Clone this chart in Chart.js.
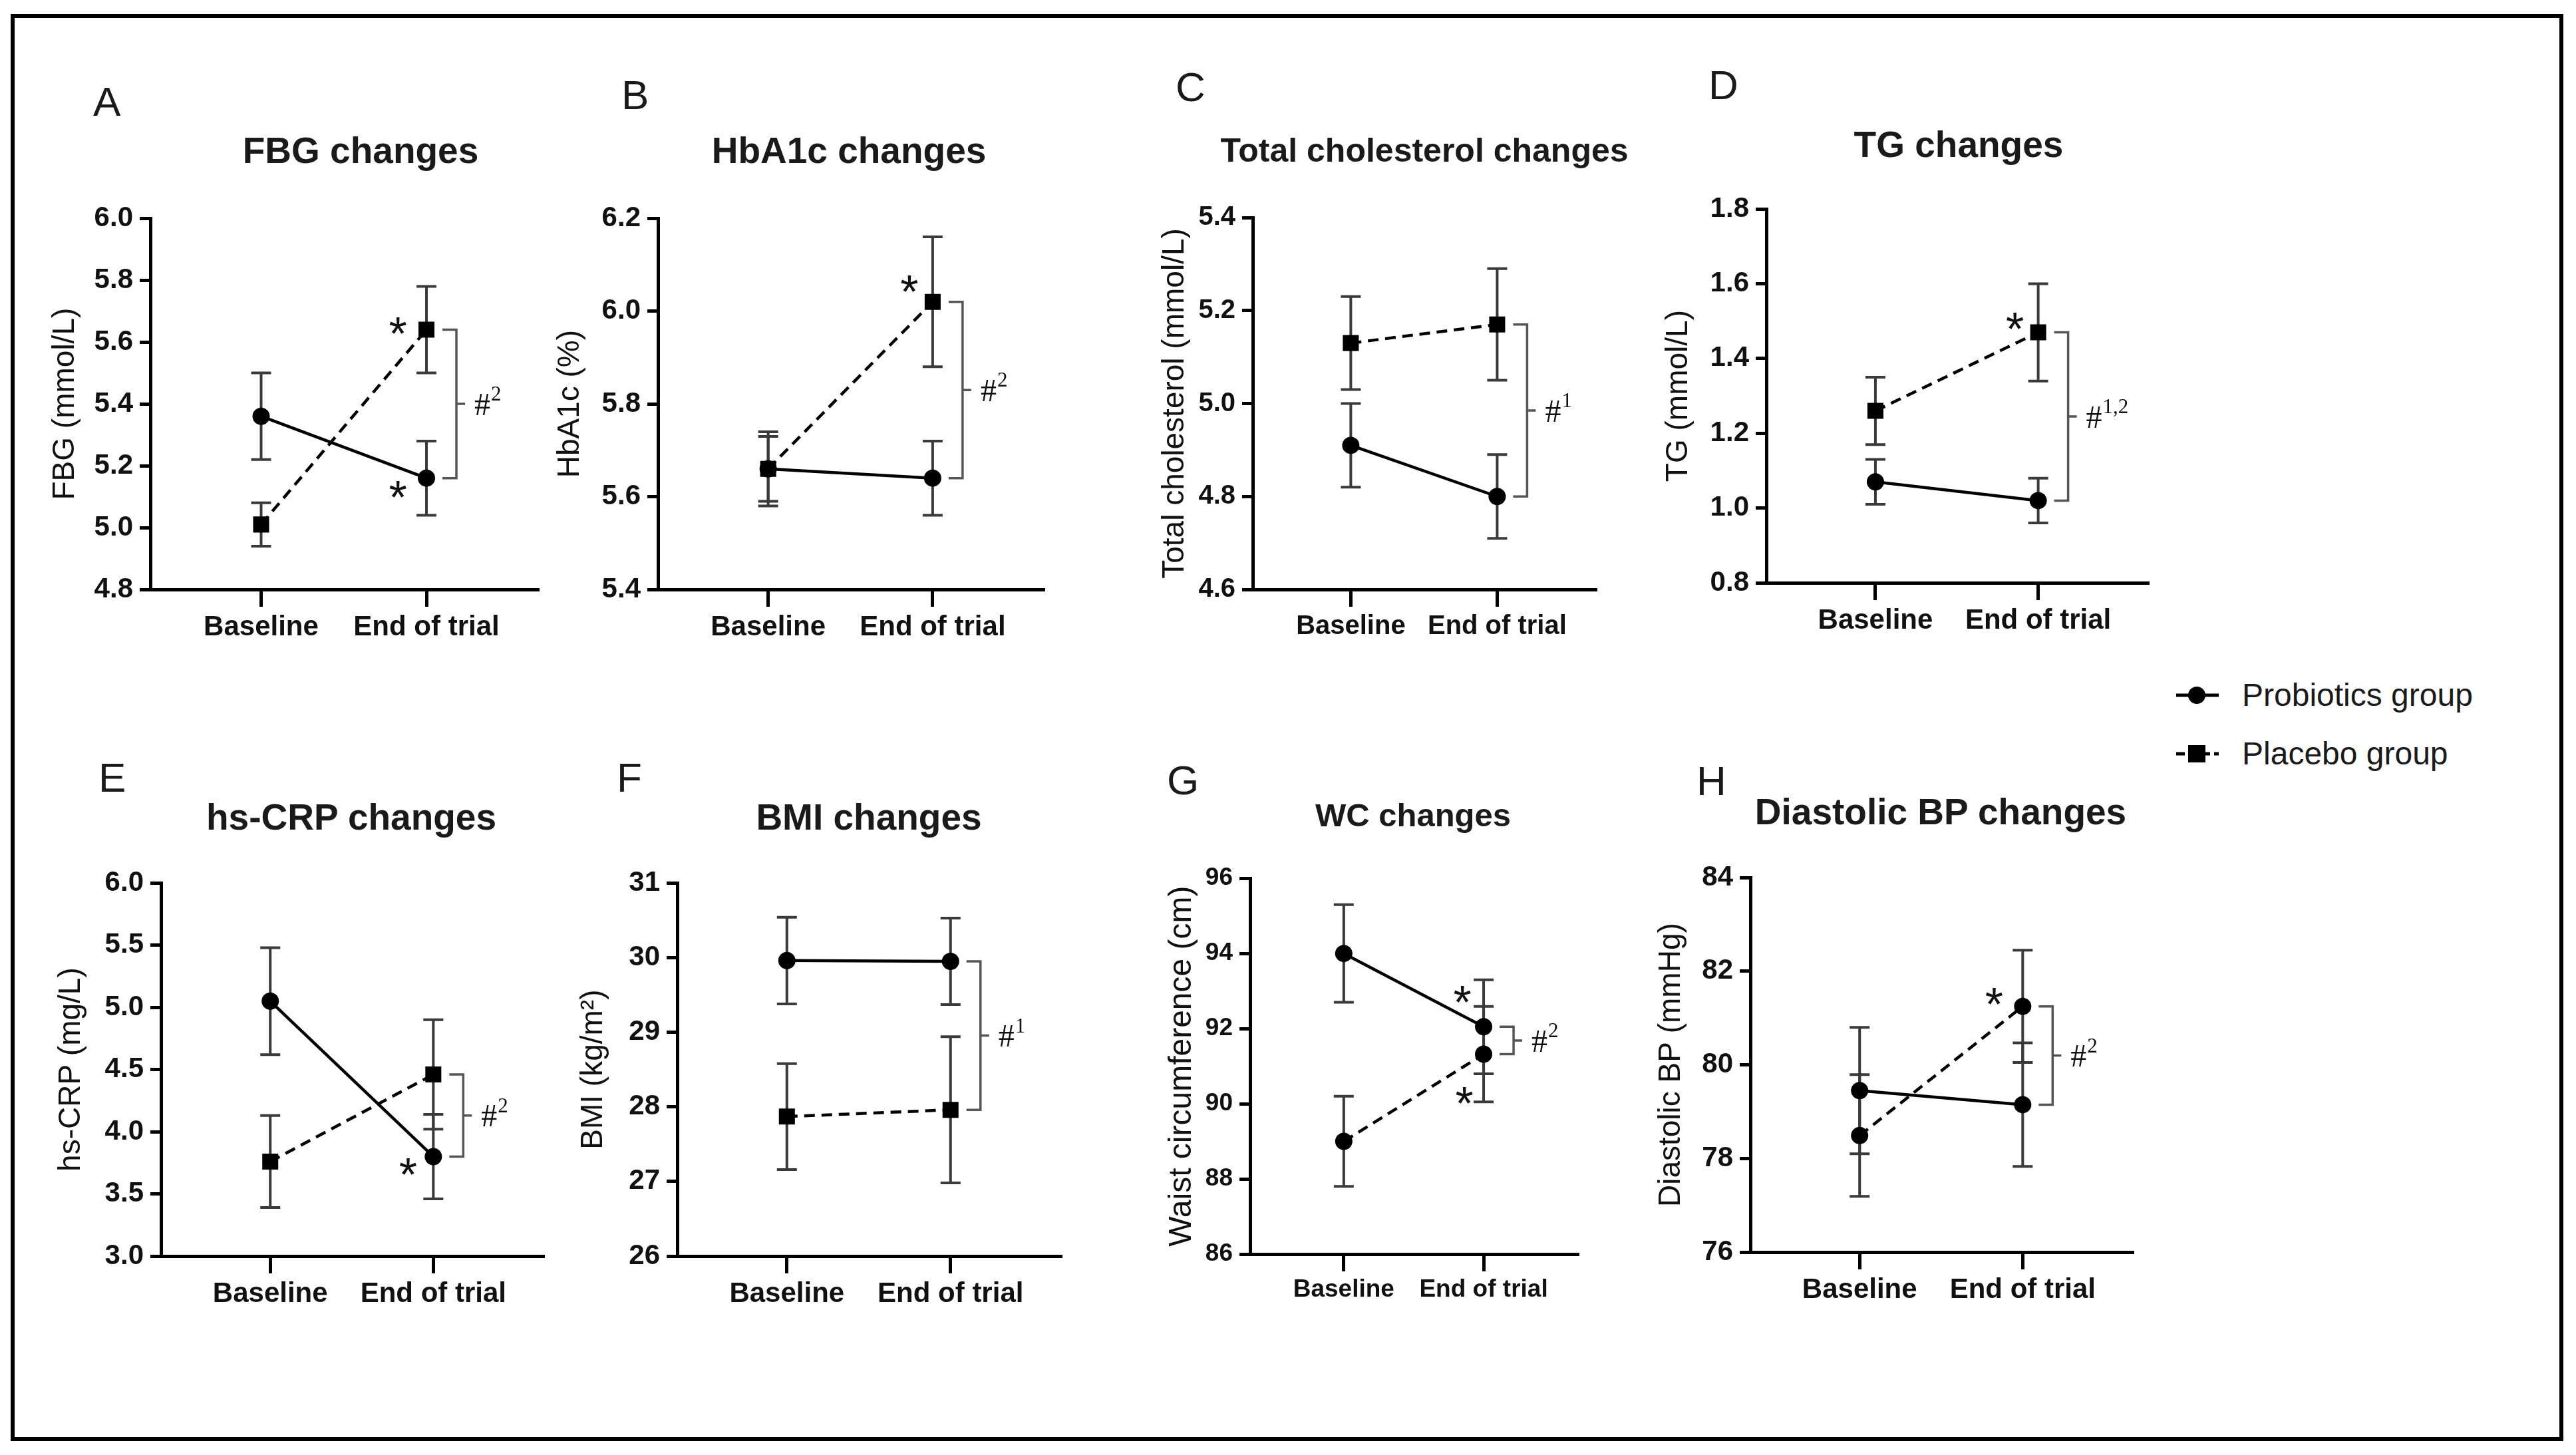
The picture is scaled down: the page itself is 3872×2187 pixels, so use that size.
<!DOCTYPE html>
<html>
<head>
<meta charset="utf-8">
<script src="https://cdn.jsdelivr.net/npm/chart.js@4.4.0/dist/chart.umd.min.js"></script>
<style>
  body { margin: 0; background: #fff; width: 3872px; height: 2187px; position: relative; overflow: hidden;
         font-family: 'Liberation Sans', Arial, sans-serif; color: #111; }
  #frame { position: absolute; left: 16px; top: 21px; width: 3825px; height: 2133px; border: 6px solid #000; }
  canvas { position: absolute; }
  .letter { position: absolute; font-size: 62px; line-height: 1; transform: translateY(-50%); color: #1a1a1a; }
  .head { position: absolute; font-size: 55px; font-weight: bold; line-height: 1; white-space: nowrap;
          transform: translate(-50%, -50%); color: #1a1a1a; }
  .legend { position: absolute; left: 3271px; display: flex; align-items: center; transform: translateY(-50%);
            font-size: 48px; line-height: 1; color: #1a1a1a; }
  .legend span { margin-left: 35px; }
</style>
</head>
<body>
<div id="frame"></div>

<div class="legend" style="top:1045px">
  <svg width="64" height="30"><line x1="0" y1="15" x2="64" y2="15" stroke="#000" stroke-width="5"/><circle cx="31" cy="15" r="13" fill="#000"/></svg>
  <span>Probiotics group</span>
</div>
<div class="legend" style="top:1133px">
  <svg width="64" height="30"><line x1="0" y1="15" x2="64" y2="15" stroke="#000" stroke-width="5" stroke-dasharray="13 6"/><rect x="18" y="2" width="26" height="26" fill="#000"/></svg>
  <span>Placebo group</span>
</div>

<script>
// categorie e serie
const timepoints = ['Baseline', 'End of trial'];
const seriesNames = ['Probiotics group', 'Placebo group'];

// A - FBG (mmol/L)
const fbgProbiotics = [5.36, 5.16];
const fbgProbioticsSem = [0.14, 0.12];
const fbgPlacebo = [5.01, 5.64];
const fbgPlaceboSem = [0.07, 0.14];
const fbgTicks = [4.8, 6.0, 0.2];

// B - HbA1c (%)
const hba1cProbiotics = [5.66, 5.64];
const hba1cProbioticsSem = [0.07, 0.08];
const hba1cPlacebo = [5.66, 6.02];
const hba1cPlaceboSem = [0.08, 0.14];
const hba1cTicks = [5.4, 6.2, 0.2];

// C - Total cholesterol (mmol/L)
const tcProbiotics = [4.91, 4.80];
const tcProbioticsSem = [0.09, 0.09];
const tcPlacebo = [5.13, 5.17];
const tcPlaceboSem = [0.10, 0.12];
const tcTicks = [4.6, 5.4, 0.2];

// D - TG (mmol/L)
const tgProbiotics = [1.07, 1.02];
const tgProbioticsSem = [0.06, 0.06];
const tgPlacebo = [1.26, 1.47];
const tgPlaceboSem = [0.09, 0.13];
const tgTicks = [0.8, 1.8, 0.2];

// E - hs-CRP (mg/L)
const crpProbiotics = [5.05, 3.80];
const crpProbioticsSem = [0.43, 0.34];
const crpPlacebo = [3.76, 4.46];
const crpPlaceboSem = [0.37, 0.44];
const crpTicks = [3.0, 6.0, 0.5];

// F - BMI (kg/m2)
const bmiProbiotics = [29.96, 29.95];
const bmiProbioticsSem = [0.58, 0.58];
const bmiPlacebo = [27.87, 27.96];
const bmiPlaceboSem = [0.71, 0.98];
const bmiTicks = [26, 31, 1];

// G - Waist circumference (cm)
const wcProbiotics = [94.0, 92.05];
const wcProbioticsSem = [1.30, 1.25];
const wcPlacebo = [89.0, 91.32];
const wcPlaceboSem = [1.20, 1.27];
const wcTicks = [86, 96, 2];

// H - Diastolic BP (mmHg)
const dbpProbiotics = [79.45, 79.15];
const dbpProbioticsSem = [1.35, 1.32];
const dbpPlacebo = [78.49, 81.25];
const dbpPlaceboSem = [1.30, 1.20];
const dbpTicks = [76, 84, 2];

// pannelli: dati + testi + annotazioni (asterischi: [serie, punto, dx, dy])
const panels = [
  { id: 'A', title: 'FBG changes', yTitle: 'FBG (mmol/L)', pro: fbgProbiotics, proSem: fbgProbioticsSem,
    pla: fbgPlacebo, plaSem: fbgPlaceboSem, ticks: fbgTicks, dec: 1, sup: '2',
    stars: [[1, 1, -43, -8], [0, 1, -43, 15]] },
  { id: 'B', title: 'HbA1c changes', yTitle: 'HbA1c (%)', pro: hba1cProbiotics, proSem: hba1cProbioticsSem,
    pla: hba1cPlacebo, plaSem: hba1cPlaceboSem, ticks: hba1cTicks, dec: 1, sup: '2',
    stars: [[1, 1, -35, -29]] },
  { id: 'C', title: 'Total cholesterol changes', yTitle: 'Total cholesterol (mmol/L)', pro: tcProbiotics, proSem: tcProbioticsSem,
    pla: tcPlacebo, plaSem: tcPlaceboSem, ticks: tcTicks, dec: 1, sup: '1', stars: [] },
  { id: 'D', title: 'TG changes', yTitle: 'TG (mmol/L)', pro: tgProbiotics, proSem: tgProbioticsSem,
    pla: tgPlacebo, plaSem: tgPlaceboSem, ticks: tgTicks, dec: 1, sup: '1,2',
    stars: [[1, 1, -35, -19]] },
  { id: 'E', title: 'hs-CRP changes', yTitle: 'hs-CRP (mg/L)', pro: crpProbiotics, proSem: crpProbioticsSem,
    pla: crpPlacebo, plaSem: crpPlaceboSem, ticks: crpTicks, dec: 1, sup: '2',
    stars: [[0, 1, -38, 14]] },
  { id: 'F', title: 'BMI changes', yTitle: 'BMI (kg/m²)', pro: bmiProbiotics, proSem: bmiProbioticsSem,
    pla: bmiPlacebo, plaSem: bmiPlaceboSem, ticks: bmiTicks, dec: 0, sup: '1', stars: [] },
  { id: 'G', title: 'WC changes', yTitle: 'Waist circumference (cm)', pro: wcProbiotics, proSem: wcProbioticsSem,
    pla: wcPlacebo, plaSem: wcPlaceboSem, ticks: wcTicks, dec: 0, sup: '2', placeboMarker: 'circle',
    stars: [[0, 1, -32, -50], [1, 1, -29, 60]] },
  { id: 'H', title: 'Diastolic BP changes', yTitle: 'Diastolic BP (mmHg)', pro: dbpProbiotics, proSem: dbpProbioticsSem,
    pla: dbpPlacebo, plaSem: dbpPlaceboSem, ticks: dbpTicks, dec: 0, sup: '2', placeboMarker: 'circle',
    stars: [[1, 1, -43, -17]] }
];

// posizione di ogni pannello nella pagina (area del grafico, titolo asse y, lettera, titolo)
const layout = {
  A: { left: 226, right: 810, top: 323, bottom: 886, yTitleX: 99, letter: [140, 153], head: [542, 226] },
  B: { left: 989, right: 1570, top: 323, bottom: 886, yTitleX: 858, letter: [934, 143], head: [1276, 226] },
  C: { left: 1883, right: 2400, top: 323, bottom: 886, yTitleX: 1767, letter: [1767, 131], head: [2141, 226], tick: 40, headSize: 50 },
  D: { left: 2655, right: 3230, top: 309, bottom: 876, yTitleX: 2524, letter: [2568, 128], head: [2944, 217] },
  E: { left: 242, right: 818, top: 1322, bottom: 1888, yTitleX: 108, letter: [148, 1169], head: [528, 1228] },
  F: { left: 1018, right: 1596, top: 1322, bottom: 1888, yTitleX: 893, letter: [927, 1169], head: [1306, 1228] },
  G: { left: 1879, right: 2373, top: 1318, bottom: 1885, yTitleX: 1777, letter: [1754, 1173], head: [2124, 1225],
       tick: 37, headSize: 49 },
  H: { left: 2631, right: 3207, top: 1314, bottom: 1882, yTitleX: 2513, letter: [2550, 1174], head: [2917, 1220] }
};

const SANS = "'Liberation Sans', Arial, sans-serif";
Chart.defaults.font.family = SANS;
Chart.defaults.color = '#111';

// barre di errore (SEM)
const errorBars = {
  id: 'errorBars',
  beforeDatasetsDraw(chart) {
    const { ctx, scales: { x, y } } = chart;
    ctx.save();
    ctx.strokeStyle = '#3a3a3a';
    ctx.lineWidth = 4;
    chart.data.datasets.forEach(ds => {
      ds.data.forEach((pt, i) => {
        const px = x.getPixelForValue(pt.x);
        const hi = y.getPixelForValue(pt.y + ds.sem[i]);
        const lo = y.getPixelForValue(pt.y - ds.sem[i]);
        ctx.beginPath();
        ctx.moveTo(px, hi); ctx.lineTo(px, lo);
        ctx.moveTo(px - 15, hi); ctx.lineTo(px + 15, hi);
        ctx.moveTo(px - 15, lo); ctx.lineTo(px + 15, lo);
        ctx.stroke();
      });
    });
    ctx.restore();
  }
};

// asterischi e parentesi con "#"
const marks = {
  id: 'marks',
  afterDatasetsDraw(chart, args, opts) {
    const { ctx, scales: { x, y } } = chart;
    const ds = chart.data.datasets;
    ctx.save();
    ctx.fillStyle = '#111';
    ctx.font = '70px ' + SANS;
    ctx.textAlign = 'center';
    ctx.textBaseline = 'alphabetic';
    opts.stars.forEach(([s, i, dx, dy]) => {
      const pt = ds[s].data[i];
      ctx.fillText('*', x.getPixelForValue(pt.x) + dx, y.getPixelForValue(pt.y) + dy + 38);
    });

    const ex = x.getPixelForValue(1);
    const y1 = y.getPixelForValue(ds[0].data[1].y);
    const y2 = y.getPixelForValue(ds[1].data[1].y);
    const top = Math.min(y1, y2), bot = Math.max(y1, y2), mid = (top + bot) / 2;
    ctx.strokeStyle = '#555';
    ctx.lineWidth = 3.5;
    ctx.beginPath();
    ctx.moveTo(ex + 24, top); ctx.lineTo(ex + 45, top); ctx.lineTo(ex + 45, bot); ctx.lineTo(ex + 24, bot);
    ctx.moveTo(ex + 45, mid); ctx.lineTo(ex + 58, mid);
    ctx.stroke();
    ctx.textAlign = 'left';
    ctx.textBaseline = 'middle';
    ctx.font = "48px 'Liberation Serif', serif";
    ctx.fillText('#', ex + 72, mid + 4);
    const w = ctx.measureText('#').width;
    ctx.font = "31px 'Liberation Serif', serif";
    ctx.fillText(opts.sup, ex + 73 + w, mid - 13);
    ctx.restore();
  }
};

function toPoints(values) {
  return values.map((v, i) => ({ x: i, y: v }));
}

function makePanel(p) {
  const g = layout[p.id];
  const yTitleSize = p.id === 'G' ? 48 : 46;
  const tickSize = g.tick || 42;
  const padTop = 30, padRight = 170, xH = 80, padBottom = 10;
  const yW = Math.round(g.left - g.yTitleX + yTitleSize * 0.6);
  const plotW = g.right - g.left, plotH = g.bottom - g.top;

  const canvas = document.createElement('canvas');
  canvas.width = yW + plotW + padRight;
  canvas.height = padTop + plotH + xH + padBottom;
  canvas.style.left = (g.left - yW) + 'px';
  canvas.style.top = (g.top - padTop) + 'px';
  document.body.appendChild(canvas);

  const letter = document.createElement('div');
  letter.className = 'letter';
  letter.textContent = p.id;
  letter.style.left = g.letter[0] + 'px';
  letter.style.top = g.letter[1] + 'px';
  document.body.appendChild(letter);

  const head = document.createElement('div');
  head.className = 'head';
  head.textContent = p.title;
  head.style.left = g.head[0] + 'px';
  head.style.top = g.head[1] + 'px';
  if (g.headSize) head.style.fontSize = g.headSize + 'px';
  document.body.appendChild(head);

  const tickFont = { size: tickSize, weight: 'bold', family: SANS };
  const placeboMarker = p.placeboMarker || 'rect';

  new Chart(canvas, {
    type: 'line',
    data: {
      datasets: [
        { label: seriesNames[0], data: toPoints(p.pro), sem: p.proSem,
          borderColor: '#000', borderWidth: 4.5, pointStyle: 'circle', pointRadius: 13,
          pointBackgroundColor: '#000', pointBorderWidth: 0 },
        { label: seriesNames[1], data: toPoints(p.pla), sem: p.plaSem,
          borderColor: '#000', borderWidth: 4.5, borderDash: [16, 10], pointStyle: placeboMarker,
          pointRadius: placeboMarker === 'rect' ? 17 : 13, pointBackgroundColor: '#000', pointBorderWidth: 0 }
      ]
    },
    options: {
      responsive: false,
      animation: false,
      devicePixelRatio: 1,
      layout: { padding: { top: padTop, right: padRight, bottom: padBottom, left: 0 } },
      plugins: {
        legend: { display: false },
        tooltip: { enabled: false },
        marks: { stars: p.stars, sup: p.sup }
      },
      scales: {
        x: {
          type: 'linear', min: -0.67, max: 1.68,
          afterBuildTicks: s => { s.ticks = timepoints.map((t, i) => ({ value: i })); },
          afterFit: s => { s.height = xH; },
          ticks: { callback: v => timepoints[v], font: tickFont, color: '#111', padding: 6, maxRotation: 0, autoSkip: false },
          grid: { drawOnChartArea: false, drawTicks: true, tickLength: 26, tickWidth: 5, tickColor: '#000' },
          border: { color: '#000', width: 5 }
        },
        y: {
          min: p.ticks[0], max: p.ticks[1],
          afterFit: s => { s.width = yW; },
          ticks: { stepSize: p.ticks[2], callback: v => v.toFixed(p.dec), font: tickFont, color: '#111', padding: 10 },
          grid: { drawOnChartArea: false, drawTicks: true, tickLength: 16, tickWidth: 5, tickColor: '#000' },
          border: { color: '#000', width: 5 },
          title: { display: true, text: p.yTitle, font: { size: yTitleSize, family: SANS }, color: '#111', padding: 0 }
        }
      }
    },
    plugins: [errorBars, marks]
  });
}

panels.forEach(makePanel);
</script>
</body>
</html>
